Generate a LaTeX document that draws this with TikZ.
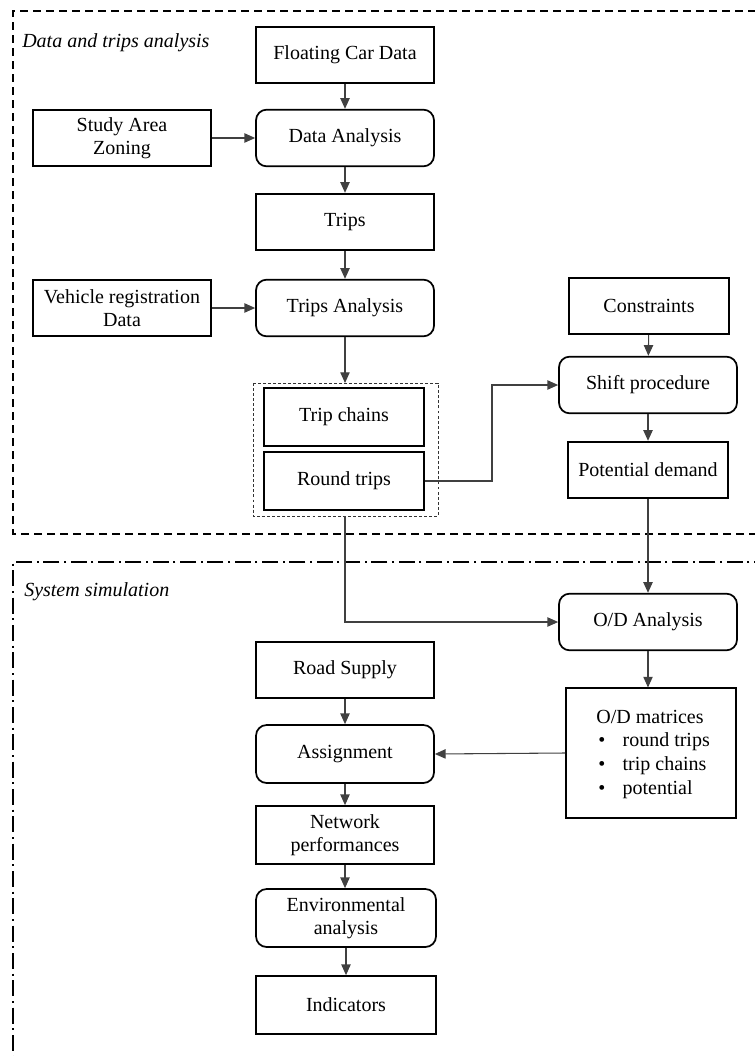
\documentclass[tikz,border=0pt]{standalone}
\usepackage{fontspec}
\setmainfont{Liberation Serif}
\usetikzlibrary{arrows.meta,positioning}
\tikzset{
  box/.style={draw=black, line width=1.3pt, minimum width=133.5pt, minimum height=42.5pt, align=center, inner sep=2pt, font=\fontsize{15}{17.5}\selectfont},
  rbox/.style={box, rounded corners=8pt},
  nbox/.style={box, minimum width=120pt},
  conn/.style={draw=black!75, line width=0.8pt, -{Triangle[length=8pt,width=7pt]}},
  plain/.style={draw=black!75, line width=0.8pt},
  frameA/.style={draw=black, line width=1.5pt, dash pattern=on 6pt off 3.75pt},
  frameB/.style={draw=black, line width=1.5pt, dash pattern=on 12pt off 3.5pt on 1.5pt off 3.5pt},
  grp/.style={draw=black!80, line width=0.7pt, dash pattern=on 2.2pt off 1.6pt},
  lbl/.style={font=\fontsize{15}{17}\selectfont\itshape, anchor=west, inner sep=0pt}
}
\begin{document}
\begin{tikzpicture}[x=0.75pt,y=-0.75pt]
\useasboundingbox (0,0) rectangle (755,1056);
\clip (0,0) rectangle (755,1056);
% frames
\draw[frameA] (770,534) -- (13,534) -- (13,11) -- (770,11);
\draw[frameB] (770,562) -- (13,562) -- (13,1070);
\node[lbl] (t1) at (22,43) {Data and trips analysis};
\node[lbl] (t2) at (24,592) {System simulation};
% nodes
\node[box]  (fcd) at (345,55)  {Floating Car Data};
\node[rbox] (da)  at (345,138) {Data Analysis};
\node[box]  (saz) at (122,138) {Study Area\\Zoning};
\node[box]  (trp) at (345,222) {Trips};
\node[rbox] (ta)  at (345,308) {Trips Analysis};
\node[box]  (vrd) at (122,308) {Vehicle registration\\Data};
\node[nbox, minimum height=44pt] (tc) at (344,417) {Trip chains};
\node[nbox, minimum height=43.5pt] (rt) at (344,481) {Round trips};
\draw[grp] (253,383) rectangle (438,516);
\coordinate (gtop) at (345,383);
\coordinate (gbot) at (345,516);
\node[nbox] (con) at (649,306) {Constraints};
\node[rbox] (sp)  at (648,385) {Shift procedure};
\node[nbox] (pd)  at (648,470) {Potential demand};
\node[rbox] (od)  at (648,622) {O/D Analysis};
\node[box, minimum width=127.5pt, minimum height=97pt, inner sep=0pt] (odm) at (651,753) {};
\node[font=\fontsize{15}{17.5}\selectfont, inner sep=0pt] (odmt) at (650,717) {O/D matrices};
\node[font=\fontsize{15}{17.5}\selectfont, inner sep=0pt, anchor=west] (b1) at (598,742) {\textbullet\hspace{13pt}round trips};
\node[font=\fontsize{15}{17.5}\selectfont, inner sep=0pt, anchor=west] (b2) at (598,766) {\textbullet\hspace{13pt}trip chains};
\node[font=\fontsize{15}{17.5}\selectfont, inner sep=0pt, anchor=west] (b3) at (598,790) {\textbullet\hspace{13pt}potential};
\node[box]  (rs)  at (345,670) {Road Supply};
\node[rbox, minimum height=43.5pt] (asg) at (345,754) {Assignment};
\node[box, minimum height=43.5pt]  (np)  at (345,835) {Network\\performances};
\node[rbox, minimum width=135pt, minimum height=43.5pt] (ea) at (346,918) {Environmental\\analysis};
\node[box, minimum width=135pt, minimum height=43.5pt]  (ind) at (346,1005) {Indicators};
% connectors
\draw[conn] (fcd) -- (da);
\draw[conn] (saz) -- (da);
\draw[conn] (da) -- (trp);
\draw[conn] (vrd) -- (ta);
\draw[conn] (trp) -- (ta);
\draw[conn] (ta) -- (gtop);
\draw[conn] (rt.east) -- (492,481) |- (sp.west);
\draw[conn] (con) -- (sp);
\draw[conn] (sp) -- (pd);
\draw[conn] (pd) -- (od);
\draw[conn] (gbot) |- (od.west);
\draw[conn] (od.south) -- (od.south |- odm.north);
\draw[conn] (odm.west) -- (asg.east);
\draw[conn] (rs) -- (asg);
\draw[conn] (asg) -- (np);
\draw[conn] (np.south) -- (np.south |- ea.north);
\draw[conn] (ea) -- (ind);
\end{tikzpicture}
\end{document}
